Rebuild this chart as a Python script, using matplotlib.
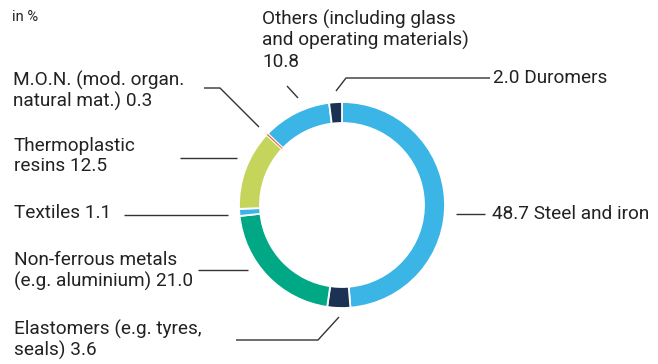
import matplotlib.pyplot as plt

plt.rcParams['font.family'] = ['Roboto', 'DejaVu Sans']

# shares in %, clockwise from 12 o'clock
names = ['Steel and iron', 'Elastomers', 'Non-ferrous metals', 'Textiles',
         'Thermoplastic resins', 'M.O.N.', 'Others', 'Duromers']
shares = [48.7, 3.6, 21.0, 1.1, 12.5, 0.3, 10.8, 2.0]
colors = ['#3bb4e6', '#1b3255', '#00a886', '#3bb4e6',
          '#c5d45b', '#e8661e', '#3bb4e6', '#1b3255']

W, H = 658, 364
txt_col = '#222222'
line_col = '#333333'
fs = 13.7

fig = plt.figure(figsize=(W / 100, H / 100), dpi=100)
ax = fig.add_axes([0, 0, 1, 1])

# donut
wedges, _ = ax.pie(shares, colors=colors, startangle=90, counterclock=False,
                   radius=103, center=(342, H - 205),
                   wedgeprops=dict(width=21, edgecolor='white',
                                   linewidth=1.3))
# keep the tiny M.O.N. slice visible on top of the white separators
wedges[5].set_zorder(3)
wedges[5].set_linewidth(0.4)

ax.set_xlim(0, W)
ax.set_ylim(0, H)
ax.set_aspect('equal')
ax.axis('off')


def label(x, y, s, ha='left'):
    ax.text(x, H - y, s, ha=ha, va='center', fontsize=fs, color=txt_col,
            linespacing=1.17)


def leader(xs, ys):
    ax.plot(xs, [H - v for v in ys], color=line_col, lw=1.0,
            solid_capstyle='butt')


ax.text(12, H - 17, 'in %', ha='left', va='center', fontsize=10.5,
        color=txt_col)

label(262, 40, 'Others (including glass\nand operating materials)\n'
      + f'{shares[6]:.1f}')
leader([287, 298], [86, 98])

label(493, 78, f'{shares[7]:.1f} Duromers')
leader([336, 346, 490], [91, 78, 78])

label(13, 91, f'M.O.N. (mod. organ.\nnatural mat.) {shares[5]:.1f}')
leader([204, 220, 259], [88, 88, 127])

label(14, 156, f'Thermoplastic\nresins {shares[4]:.1f}')
leader([180, 237], [158, 158])

label(14, 213, f'Textiles {shares[3]:.1f}')
leader([124, 228], [215, 215])

label(14, 271, f'Non-ferrous metals\n(e.g. aluminium) {shares[2]:.1f}')
leader([198, 248], [270, 270])

label(14, 340, f'Elastomers (e.g. tyres,\nseals) {shares[1]:.1f}')
leader([236, 318, 339], [340, 340, 317])

label(492, 214, f'{shares[0]:.1f} Steel and iron')
leader([456, 485], [214, 214])

fig.savefig('out.png', dpi=100)
